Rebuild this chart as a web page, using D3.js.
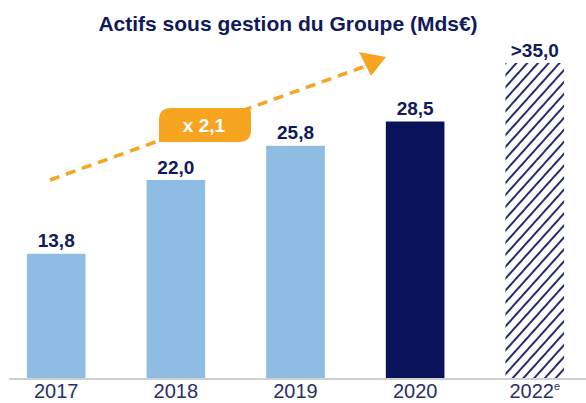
<!DOCTYPE html>
<meta charset="utf-8">
<head>
    <script src="https://d3js.org/d3.v7.min.js"></script>
    <style>
        body { margin: 0; background: #fff; }
        text { font-family: "Liberation Sans", Arial, sans-serif; }
    </style>
</head>
<body>
<div id="chart"></div>
<script>
    // data
    const years = ["2017", "2018", "2019", "2020", "2022"];
    const values = [13.8, 22.0, 25.8, 28.5, 35.0];
    const valueLabels = ["13,8", "22,0", "25,8", "28,5", ">35,0"];
    const barKinds = ["past", "past", "past", "current", "estimate"];

    const width = 586, height = 403;
    const baseY = 378;

    const svg = d3.select("#chart").append("svg")
        .attr("width", width)
        .attr("height", height);

    const defs = svg.append("defs");
    defs.append("pattern")
        .attr("id", "hatch")
        .attr("patternUnits", "userSpaceOnUse")
        .attr("width", 8)
        .attr("height", 8)
        .attr("patternTransform", "rotate(42)")
        .append("line")
        .attr("x1", 2).attr("y1", 0)
        .attr("x2", 2).attr("y2", 8)
        .attr("stroke", "#0d1660")
        .attr("stroke-width", 1.8);

    const x = d3.scaleBand()
        .domain(years)
        .range([-3, 594])
        .paddingInner(0.51)
        .paddingOuter(0.25);

    const y = d3.scaleLinear()
        .domain([0, 35])
        .range([baseY, 63]);

    const fills = { past: "#8fbce2", current: "#08135a", estimate: "url(#hatch)" };

    // title
    svg.append("text")
        .attr("x", 288)
        .attr("y", 31)
        .attr("text-anchor", "middle")
        .attr("font-size", 21)
        .attr("font-weight", "bold")
        .attr("fill", "#101a5c")
        .text("Actifs sous gestion du Groupe (Mds€)");

    // dashed growth arrow
    svg.append("line")
        .attr("x1", 50).attr("y1", 180)
        .attr("x2", 366).attr("y2", 66)
        .attr("stroke", "#f7a521")
        .attr("stroke-width", 3.5)
        .attr("stroke-dasharray", "10,7");
    svg.append("path")
        .attr("d", "M359,52 L386,57 L371,76 Z")
        .attr("fill", "#f7a521");

    // bars
    svg.selectAll("rect.bar")
        .data(years)
        .join("rect")
        .attr("class", "bar")
        .attr("x", d => x(d))
        .attr("width", x.bandwidth())
        .attr("y", (d, i) => y(values[i]))
        .attr("height", (d, i) => baseY - y(values[i]))
        .attr("fill", (d, i) => fills[barKinds[i]]);

    svg.selectAll("text.val")
        .data(years)
        .join("text")
        .attr("class", "val")
        .attr("x", d => x(d) + x.bandwidth() / 2)
        .attr("y", (d, i) => y(values[i]) - 6.5)
        .attr("text-anchor", "middle")
        .attr("font-size", 19)
        .attr("font-weight", "bold")
        .attr("fill", "#101a5c")
        .text((d, i) => valueLabels[i]);

    // badge
    const bx = 159, by = 108, bw = 92, bh = 34;
    svg.append("path")
        .attr("d", `M${bx},${by + 12} Q${bx},${by} ${bx + 12},${by} L${bx + bw - 5},${by} Q${bx + bw},${by} ${bx + bw},${by + 5}
                    L${bx + bw},${by + bh - 12} Q${bx + bw},${by + bh} ${bx + bw - 12},${by + bh} L${bx},${by + bh} Z`)
        .attr("fill", "#f7a521");
    svg.append("text")
        .attr("x", 204)
        .attr("y", 132)
        .attr("text-anchor", "middle")
        .attr("font-size", 19)
        .attr("font-weight", "bold")
        .attr("fill", "#fff")
        .text("x 2,1");

    // axis
    const xAxis = d3.axisBottom(x).tickSize(0).tickPadding(0);
    const axisG = svg.append("g")
        .attr("transform", `translate(0, ${baseY})`)
        .call(xAxis);
    axisG.select(".domain").remove();
    svg.append("line")
        .attr("x1", 9).attr("x2", width)
        .attr("y1", baseY + 1).attr("y2", baseY + 1)
        .attr("stroke", "#cfcfcf")
        .attr("stroke-width", 2);
    axisG.selectAll(".tick text")
        .attr("y", 20)
        .attr("dy", null)
        .attr("font-size", 20)
        .attr("font-family", "'Liberation Sans', Arial, sans-serif")
        .attr("fill", "#2a3068")
        .each(function(d) {
            if (d === "2022") {
                d3.select(this).append("tspan")
                    .attr("font-size", 11)
                    .attr("dy", "-0.75em")
                    .text("e");
            }
        });
</script>
</body>
